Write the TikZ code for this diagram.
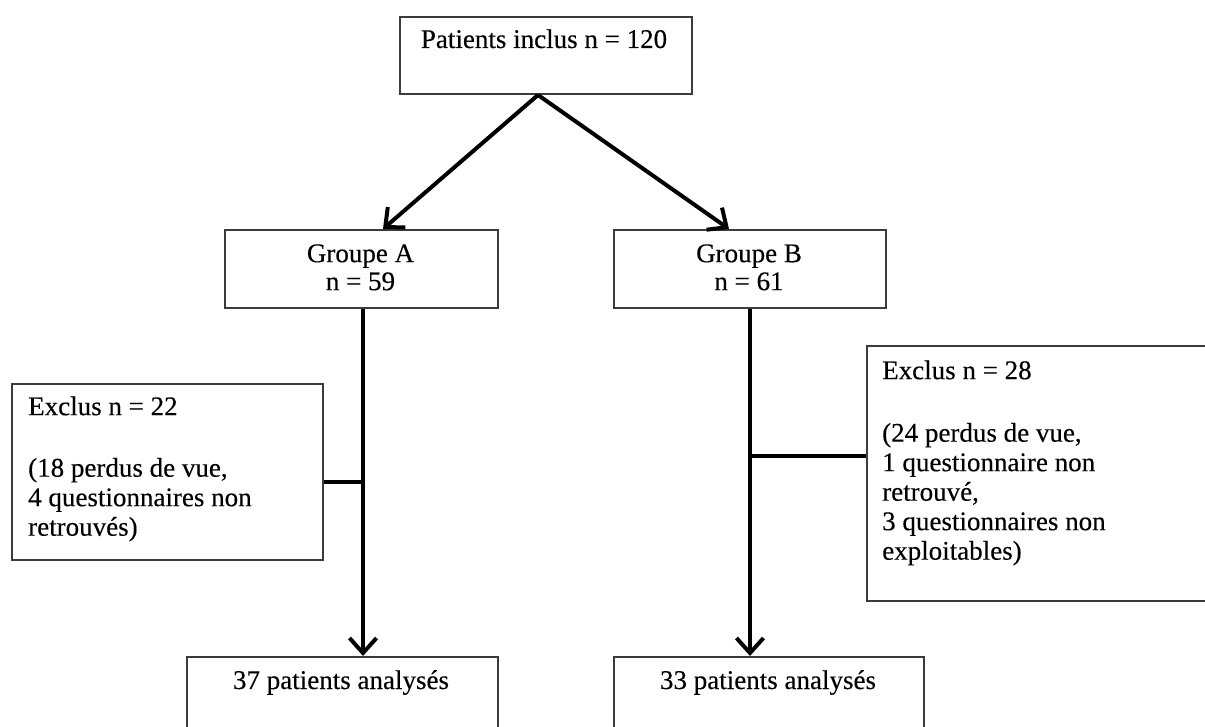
\documentclass[tikz,border=0pt]{standalone}
\usepackage{fontspec}
\setmainfont{Liberation Serif}[FakeBold=0.3]
\usetikzlibrary{arrows.meta}
\definecolor{boxgray}{RGB}{60,60,60}
\begin{document}
\begin{tikzpicture}[x=1pt,y=-1pt,
  box/.style={draw=boxgray, line width=2pt, inner sep=0pt, anchor=north west},
  txt/.style={inner sep=0pt, text=black, font=\fontsize{27}{29.5}\selectfont},
  conn/.style={line width=4pt, draw=black},
  arr/.style={conn, -{Straight Barb[length=15pt,width=27pt]}}]
\useasboundingbox (0,0) rectangle (1205,727);
\begin{scope}
\clip (0,0) rectangle (1205,727);
% boxes
\node[box, minimum width=292pt, minimum height=77pt] (top) at (399,16) {};
\node[box, minimum width=273pt, minimum height=78pt] (gA) at (224,229) {};
\node[box, minimum width=272pt, minimum height=78pt] (gB) at (613,229) {};
\node[box, minimum width=311pt, minimum height=176pt] (exA) at (11,383) {};
\node[box, minimum width=380pt, minimum height=255pt] (exB) at (866,345) {};
\node[box, minimum width=311pt, minimum height=110pt] (r37) at (186,656) {};
\node[box, minimum width=310pt, minimum height=110pt] (r33) at (613,656) {};
% texts
\node[txt, anchor=base] (tTop) at (544,48) {Patients inclus n = 120};
\node[txt, anchor=north, align=center, font=\fontsize{27}{28}\selectfont] (tA) at (360.5,242.4) {\strut Groupe A\\n = 59};
\node[txt, anchor=north, align=center, font=\fontsize{27}{28}\selectfont] (tB) at (749,242.4) {\strut Groupe B\\n = 61};
\node[txt, anchor=north west, align=left] (tExA) at (28,394.35) {\strut Exclus n = 22\\[32pt](18 perdus de vue,\\4 questionnaires non\\retrouvés)};
\node[txt, anchor=north west, align=left] (tExB) at (882,358.35) {\strut Exclus n = 28\\[33pt](24 perdus de vue,\\1 questionnaire non\\retrouvé,\\3 questionnaires non\\exploitables)};
\node[txt, anchor=base] (t37) at (341,689) {37 patients analysés};
\node[txt, anchor=base] (t33) at (768,689) {33 patients analysés};
\end{scope}
% connectors
\draw[arr] ([xshift=-8pt]top.south) -- ([xshift=21.5pt]gA.north);
\draw[arr] ([xshift=-8pt]top.south) -- ([xshift=-21pt]gB.north);
\draw[arr] ([xshift=1.5pt]gA.south) -- ([xshift=1.5pt]gA.south |- r37.north);
\draw[arr] (gB.south) -- (gB.south |- r33.north);
\draw[conn] ([xshift=1.5pt]gA.south |- 0,482) -- (exA.east |- 0,482);
\draw[conn] (gB.south |- 0,456) -- (exB.west |- 0,456);
\end{tikzpicture}
\end{document}
